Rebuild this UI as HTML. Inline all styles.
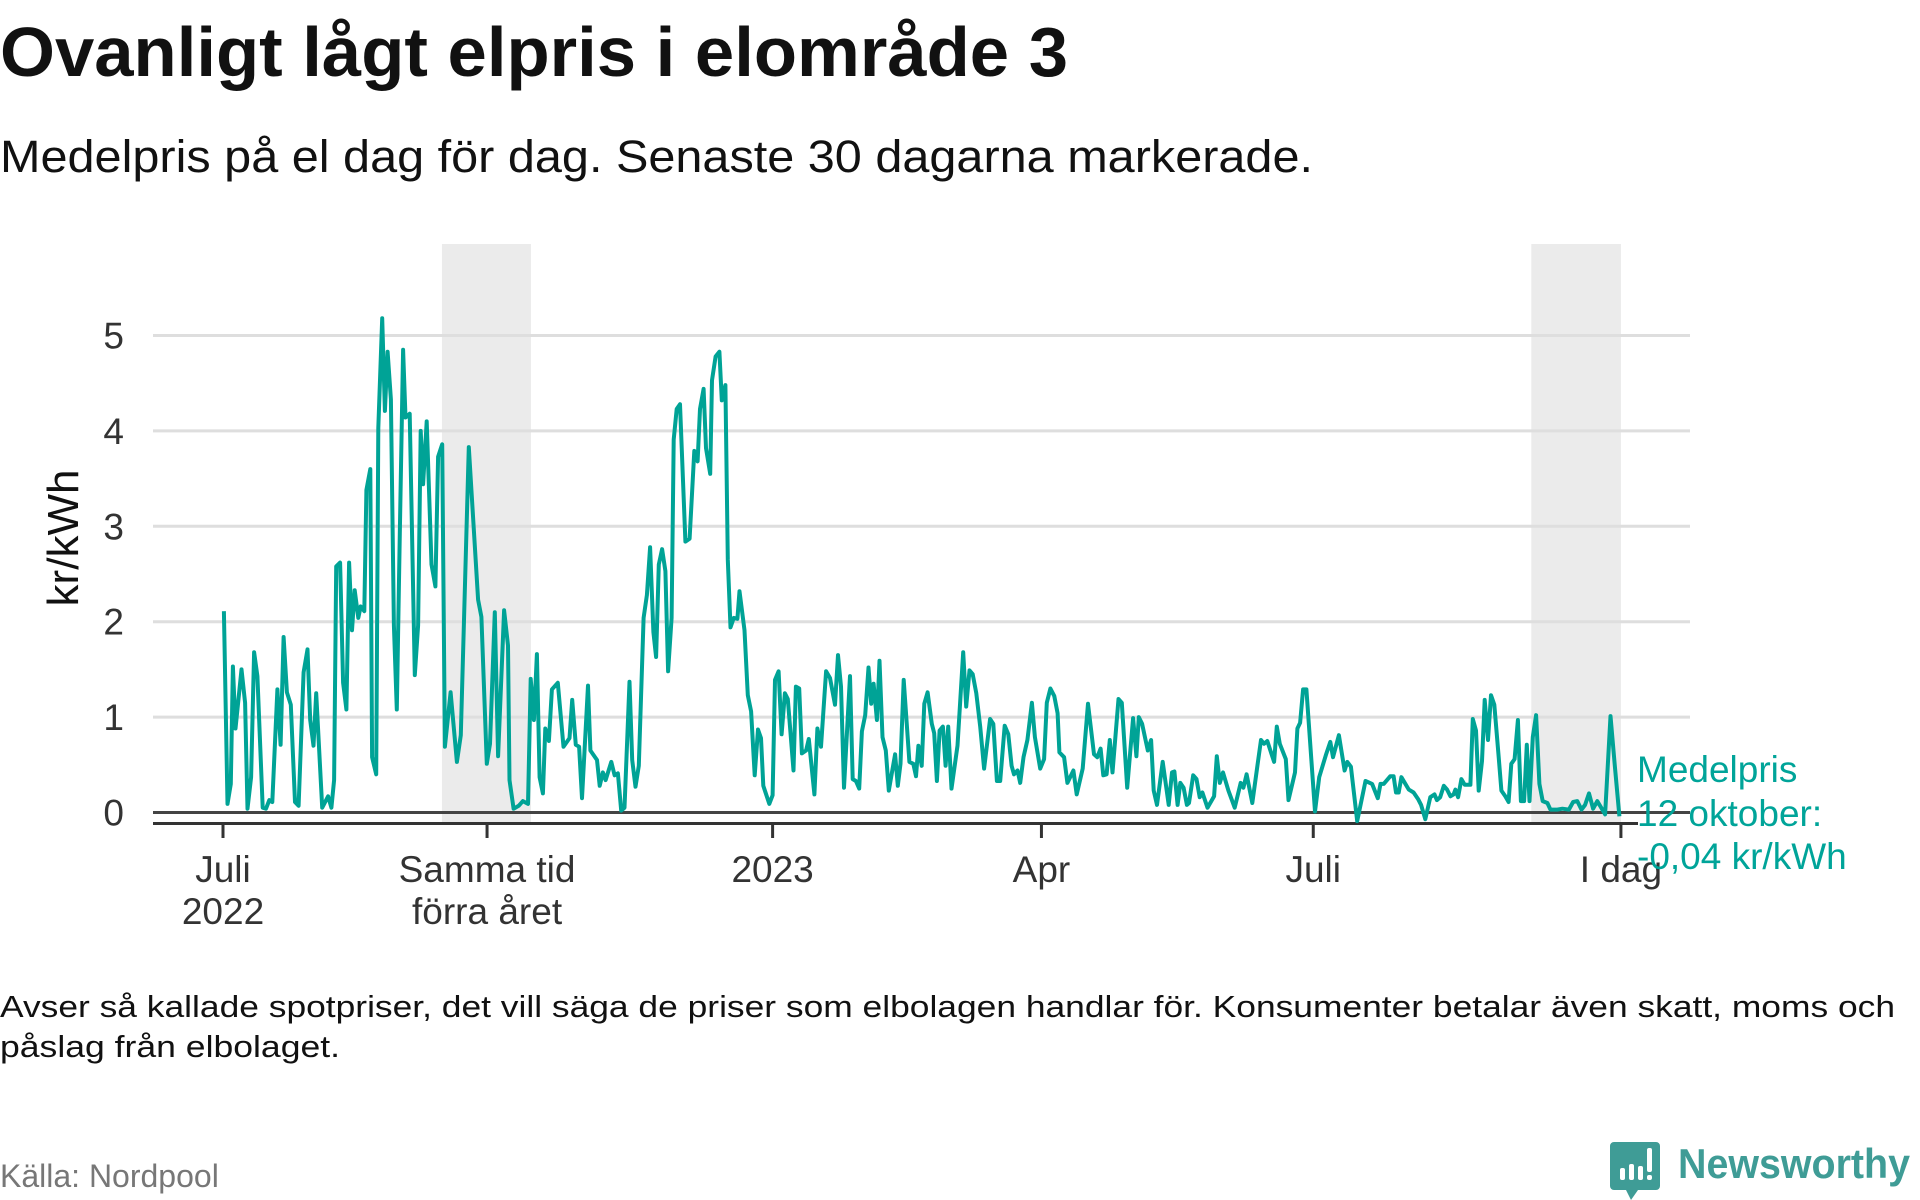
<!DOCTYPE html>
<html><head><meta charset="utf-8">
<style>
html,body{margin:0;padding:0;background:#fff;}
svg{display:block;font-family:"Liberation Sans",sans-serif;}
</style></head>
<body>
<svg id="chart" width="1920" height="1200" viewBox="0 0 1920 1200" xmlns="http://www.w3.org/2000/svg">
<text x="0" y="76" font-size="70" font-weight="bold" fill="#111" textLength="1068" lengthAdjust="spacingAndGlyphs">Ovanligt lågt elpris i elområde 3</text>
<text x="0" y="172" font-size="45" fill="#111" textLength="1313" lengthAdjust="spacingAndGlyphs">Medelpris på el dag för dag.  Senaste 30 dagarna markerade.</text>
<g id="plot"></g>
<text transform="translate(78,538) rotate(-90)" text-anchor="middle" font-size="44" fill="#111">kr/kWh</text>
<text x="1637" y="782" font-size="37" fill="#00a499">Medelpris</text>
<text x="1637" y="826" font-size="37" fill="#00a499">12 oktober:</text>
<text x="1637" y="869" font-size="37" fill="#00a499">-0,04 kr/kWh</text>
<text x="0" y="1017" font-size="31" fill="#111" textLength="1895" lengthAdjust="spacingAndGlyphs">Avser så kallade spotpriser, det vill säga de priser som elbolagen handlar för. Konsumenter betalar även skatt, moms och</text>
<text x="0" y="1057" font-size="31" fill="#111" textLength="340" lengthAdjust="spacingAndGlyphs">påslag från elbolaget.</text>
<text x="0" y="1187" font-size="32" fill="#777">Källa: Nordpool</text>
<g>
<path d="M1614 1142 h42 a4 4 0 0 1 4 4 v40 a4 4 0 0 1 -4 4 h-18 l-7 10 l-5 -10 h-12 a4 4 0 0 1 -4 -4 v-40 a4 4 0 0 1 4 -4z" fill="#3f9c96"/>
<rect x="1620" y="1168" width="5" height="12" rx="2" fill="#fff"/>
<rect x="1629" y="1164" width="5" height="16" rx="2" fill="#fff"/>
<rect x="1638" y="1166" width="5" height="14" rx="2" fill="#fff"/>
<rect x="1647" y="1148" width="5" height="24" rx="2" fill="#fff"/>
<rect x="1647" y="1175" width="5" height="5" rx="2" fill="#fff"/>
<text x="1678" y="1178" font-size="42" font-weight="bold" fill="#3f9c96" textLength="232" lengthAdjust="spacingAndGlyphs">Newsworthy</text>
</g>
</svg>
<script>
const days = [0.3,1.5,2.6,3.3,4.2,6.2,7.4,8.2,9.4,10.4,11.5,13.3,14.4,15.5,16.5,18.2,19.3,20.3,21.4,22.7,24.1,25.3,27.0,28.3,29.2,30.3,31.2,33.2,35.2,36.3,37.2,37.9,39.2,40.2,41.3,42.2,43.2,44.1,45.3,46.1,47.3,48.0,49.3,49.9,51.3,52.0,53.3,54.2,55.1,56.2,57.2,58.2,59.2,60.3,61.1,62.5,64.2,65.3,66.2,67.0,68.2,69.8,71.1,72.0,73.4,74.3,76.2,78.3,79.6,82.3,85.4,86.5,88.3,89.4,91.0,92.1,94.1,95.4,95.9,97.3,99.0,100.4,102.1,103.0,104.1,105.1,106.0,
107.1,107.9,109.1,110.1,112.1,114.0,116.0,116.9,118.1,119.2,120.2,122.2,123.0,125.2,126.1,127.2,128.1,130.0,131.1,132.2,133.3,134.4,136.1,137.0,138.1,139.2,140.8,141.9,143.0,144.1,145.0,145.9,147.0,148.1,149.0,150.2,150.9,151.9,153.0,154.8,156.2,157.8,158.9,159.7,160.9,161.7,163.1,163.7,164.9,166.2,167.0,168.2,169.0,169.9,171.0,172.2,172.9,174.6,175.7,176.8,178.0,179.1,180.1,180.9,182.9,184.0,184.8,186.0,187.0,188.1,189.1,191.0,191.8,192.9,193.8,195.2,196.1,198.0,199.0,200.2,201.9,203.2,204.9,205.9,206.9,207.9,209.9,210.8,211.9,213.0,213.9,215.0,216.1,
217.0,217.8,218.9,219.8,220.8,221.9,222.9,225.0,225.9,226.8,227.9,229.8,231.1,232.0,232.8,233.9,234.8,235.9,237.3,238.1,239.0,239.9,241.0,241.9,242.8,243.9,245.9,247.8,248.8,249.9,251.0,252.2,253.5,254.8,256.8,257.9,259.1,260.2,261.7,262.9,264.0,264.8,266.0,266.9,268.0,269.3,270.8,271.8,273.6,274.9,275.8,277.0,278.3,279.4,280.0,281.6,282.7,284.7,285.8,287.8,289.6,291.6,292.7,293.8,294.7,295.8,296.9,297.8,299.8,300.9,302.7,304.7,305.8,306.6,307.7,309.6,310.7,311.6,312.7,314.6,316.6,317.7,318.5,319.6,320.5,321.6,322.7,
323.4,324.8,325.9,327.0,327.9,329.6,331.8,332.7,333.7,334.8,336.6,338.7,340.7,341.6,342.7,344.6,346.3,347.5,348.5,349.6,351.9,352.8,353.8,355.8,356.7,358.9,359.7,360.6,361.6,362.7,365.6,367.0,369.2,370.7,371.6,373.6,375.5,376.4,377.6,379.7,382.5,384.7,386.6,387.5,388.6,390.8,391.9,392.7,393.6,394.5,397.0,398.6,400.1,401.1,402.5,404.2,405.6,406.4,407.5,408.7,409.8,410.9,412.0,412.6,413.5,414.6,415.7,417.6,418.4,419.5,420.4,421.5,422.4,423.5,424.5,425.6,
427.1,428.0,429.3,430.4,431.3,432.4,433.5,434.5,435.6,436.5,437.4,438.5,439.6,440.7,441.8,443.4,444.4,446.7,448.4,450.6,452.0,453.4,454.8,456.0,457.3,458.7,460.1,461.6,462.7,464.5,466.0,467.5];
const prices = [2.11,0.09,0.30,1.53,0.88,1.50,1.15,0.04,0.37,1.68,1.43,0.05,0.04,0.13,0.11,1.29,0.71,1.84,1.26,1.13,0.11,0.07,1.47,1.71,0.97,0.70,1.25,0.05,0.17,0.05,0.34,2.58,2.62,1.36,1.08,2.62,1.91,2.33,2.04,2.16,2.11,3.38,3.60,0.58,0.40,4.03,5.18,4.21,4.83,4.33,1.96,1.08,2.92,4.85,4.14,4.18,1.44,1.96,4.00,3.44,4.10,2.60,2.37,3.73,3.86,0.69,1.26,0.53,0.81,3.83,2.23,2.05,0.51,0.72,2.10,0.59,2.12,1.75,0.34,0.04,0.07,0.12,0.09,1.40,0.97,1.66,0.37,
0.20,0.88,0.75,1.29,1.36,0.69,0.78,1.18,0.71,0.69,0.15,1.33,0.65,0.55,0.28,0.42,0.34,0.53,0.39,0.41,0.02,0.05,1.37,0.55,0.27,0.49,2.04,2.28,2.78,1.89,1.63,2.60,2.76,2.53,1.48,2.04,3.91,4.23,4.28,2.84,2.87,3.79,3.68,4.23,4.44,3.82,3.55,4.53,4.78,4.83,4.32,4.48,2.65,1.94,2.04,2.03,2.32,1.91,1.23,1.06,0.39,0.87,0.78,0.28,0.09,0.18,1.39,1.48,0.82,1.25,1.19,0.44,1.32,1.30,0.62,0.65,0.77,0.19,0.88,0.69,1.48,1.41,1.13,1.65,1.32,0.26,1.43,0.35,0.33,0.25,0.85,1.02,1.52,
1.14,1.35,0.97,1.59,0.79,0.65,0.23,0.61,0.28,0.51,1.39,0.53,0.51,0.38,0.70,0.49,1.14,1.26,0.93,0.83,0.33,0.86,0.90,0.49,0.90,0.25,0.70,1.68,1.11,1.49,1.45,1.25,0.90,0.46,0.98,0.93,0.33,0.33,0.91,0.82,0.49,0.40,0.44,0.31,0.58,0.76,1.15,0.79,0.46,0.56,1.15,1.30,1.22,1.04,0.63,0.58,0.31,0.44,0.19,0.46,1.14,0.61,0.58,0.67,0.39,0.40,0.76,0.42,1.19,1.15,0.26,0.99,0.59,1.00,0.93,0.65,0.76,0.23,0.08,0.53,0.08,0.42,0.43,0.08,0.31,0.26,0.08,
0.10,0.39,0.35,0.16,0.21,0.05,0.17,0.59,0.31,0.42,0.23,0.05,0.31,0.26,0.40,0.10,0.49,0.76,0.72,0.75,0.53,0.90,0.72,0.56,0.13,0.42,0.88,0.94,1.29,1.29,0.01,0.37,0.60,0.74,0.58,0.81,0.44,0.53,0.48,-0.09,0.33,0.30,0.15,0.30,0.30,0.38,0.38,0.21,0.21,0.37,0.24,0.21,0.14,0.08,-0.07,0.16,0.19,0.13,0.16,0.28,0.24,0.17,0.19,0.24,0.16,0.35,0.29,0.29,0.98,0.86,0.23,0.54,1.18,0.76,1.23,1.13,
0.58,0.23,0.17,0.11,0.51,0.56,0.97,0.12,0.12,0.71,0.12,0.79,1.02,0.30,0.12,0.10,0.03,0.03,0.04,0.03,0.11,0.12,0.03,0.08,0.20,0.04,0.12,0.04,-0.02,1.01,0.48,-0.04];
const yTicks = [0,1,2,3,4,5];
const xTickDays = [0,88.4,184,274,365,468];
const xTickLabels = [["Juli","2022"],["Samma tid","förra året"],["2023"],["Apr"],["Juli"],["I dag"]];
const bandDays = [[73.3,103.1],[438,468]];

const NS="http://www.w3.org/2000/svg";
const plot=document.getElementById('plot');
const X0=223, DX=2.987, Y0=812.5, DY=95.4;
const xs=d=>X0+d*DX;
const ys=v=>Y0-v*DY;
function mk(tag,attrs,parent){const e=document.createElementNS(NS,tag);for(const k in attrs)e.setAttribute(k,attrs[k]);(parent||plot).appendChild(e);return e;}

bandDays.forEach((b,i)=>{
  const r=mk('rect',{x:xs(b[0]),y:244,width:xs(b[1])-xs(b[0]),height:824-244,fill:'#ebebeb'});
  
  
});
yTicks.forEach(t=>{
  if(t>0){
    const g=mk('line',{x1:153,x2:1690,y1:ys(t),y2:ys(t),stroke:'#dedede','stroke-width':3});
    
    
  }
  const tx=mk('text',{x:124,y:ys(t)+13,'text-anchor':'end','font-size':37,fill:'#333'});
  tx.textContent=t;
  
  
});
const z=mk('line',{x1:153,x2:1690,y1:ys(0),y2:ys(0),stroke:'#444','stroke-width':3});


const ax=mk('line',{x1:153,x2:1638,y1:823.5,y2:823.5,stroke:'#333','stroke-width':3});


xTickDays.forEach((d,i)=>{
  const tk=mk('line',{x1:xs(d),x2:xs(d),y1:823,y2:838,stroke:'#333','stroke-width':3});
  
  
  xTickLabels[i].forEach((l,j)=>{
    const tx=mk('text',{x:xs(d),y:882+j*42,'text-anchor':'middle','font-size':37,fill:'#333'});
    tx.textContent=l;
    
    
  });
});
let dstr='';
days.forEach((d,i)=>{dstr+=(i?'L':'M')+xs(d).toFixed(1)+','+ys(prices[i]).toFixed(1);});
const ln=mk('path',{d:dstr,fill:'none',stroke:'#00a396','stroke-width':4,'stroke-linejoin':'round'});


</script>
</body></html>
